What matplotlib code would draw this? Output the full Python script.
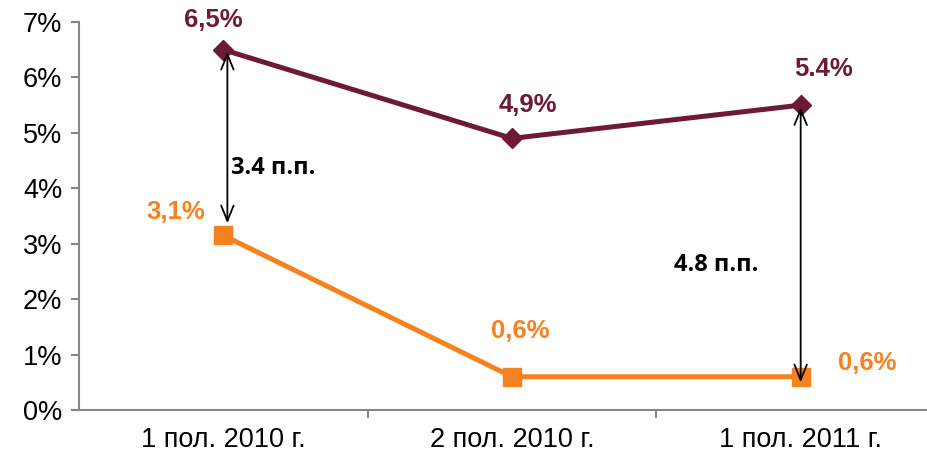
import matplotlib
matplotlib.use('Agg')
import matplotlib.pyplot as plt
import numpy as np

# data
categories = ['1 пол. 2010 г.', '2 пол. 2010 г.', '1 пол. 2011 г.']
upper = [6.5, 4.9, 5.5]
lower = [3.15, 0.6, 0.6]
upper_labels = ['6,5%', '4,9%', '5.4%']
lower_labels = ['3,1%', '0,6%', '0,6%']
gap_labels = ['3.4 п.п.', '4.8 п.п.']

maroon = '#6E1937'
orange = '#F5821F'
axis_grey = '#868686'

plt.rcParams['font.family'] = ['Liberation Sans', 'DejaVu Sans']

fig = plt.figure(figsize=(9.27, 4.51), dpi=100)
ax = fig.add_axes([79/927, 41/451, 866/927, 388/451])

x = np.arange(len(categories))
ax.plot(x, upper, color=maroon, lw=3.6, marker='D', ms=10, zorder=3)
ax.plot(x, lower, color=orange, lw=3.6, marker='s', ms=13, zorder=3)

# value labels (offsets in pixels)
up_off = [(-10, 30), (16, 33), (23, 36)]
lo_off = [(-48, 23), (8, 46), (67, 14)]
for i in range(len(x)):
    ax.annotate(upper_labels[i], (x[i], upper[i]), xytext=up_off[i],
                textcoords='offset pixels', ha='center', va='center',
                color=maroon, fontsize=18.5, fontweight='bold')
    ax.annotate(lower_labels[i], (x[i], lower[i]), xytext=lo_off[i],
                textcoords='offset pixels', ha='center', va='center',
                color=orange, fontsize=18.5, fontweight='bold')

# gap arrows
arrow_x = [0.014, 2.0]
arrow_idx = [0, 2]
for ax_x, i in zip(arrow_x, arrow_idx):
    ax.annotate('', xy=(ax_x, upper[i] - 0.04), xytext=(ax_x, lower[i] + 0.22 if i == 0 else lower[i] - 0.1),
                arrowprops=dict(arrowstyle='<->,head_length=1.1,head_width=0.45',
                                color='black', lw=1.3, shrinkA=0, shrinkB=0),
                zorder=4)

ax.annotate(gap_labels[0], (arrow_x[0], 4.37), xytext=(4, 0), textcoords='offset pixels',
            ha='left', va='center', fontsize=17, fontweight='bold',
            family=['Open Sans', 'DejaVu Sans'])
ax.annotate(gap_labels[1], (arrow_x[1], 2.62), xytext=(-84, 0), textcoords='offset pixels',
            ha='center', va='center', fontsize=17, fontweight='bold',
            family=['Open Sans', 'DejaVu Sans'])

ax.set_xlim(-0.5, 2.5)
ax.set_ylim(0, 7)
ax.set_yticks(np.arange(0, 8, 1))
ax.set_yticklabels([f'{v}%' for v in range(8)])
ax.set_xticks(x)
ax.set_xticklabels(categories)
ax.set_xticks([0.5, 1.5], minor=True)
ax.tick_params(axis='x', which='major', length=0, pad=12, labelsize=19.5)
ax.tick_params(axis='x', which='minor', length=6, color=axis_grey, width=1.5)
ax.tick_params(axis='y', length=6, color=axis_grey, width=1.5, labelsize=19.5, pad=6)

for s in ['top', 'right']:
    ax.spines[s].set_visible(False)
for s in ['left', 'bottom']:
    ax.spines[s].set_color(axis_grey)
    ax.spines[s].set_linewidth(1.5)

fig.savefig('out.png', dpi=100)
